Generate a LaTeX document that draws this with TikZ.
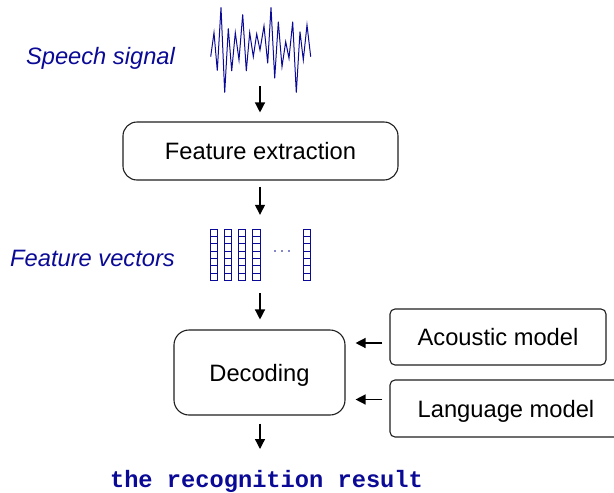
\documentclass[tikz,border=0pt]{standalone}
\usepackage{fontspec}
\setmainfont{Liberation Sans}
\setmonofont{Liberation Mono}
\usetikzlibrary{arrows.meta}
\definecolor{sigblue}{RGB}{10,10,150}
\definecolor{boxline}{RGB}{30,30,30}
\tikzset{
  every node/.style={font=\fontsize{23.7}{28}\selectfont},
  stagebox/.style={draw=boxline, line width=1.1pt, inner sep=0pt,
    text height=17pt, text depth=0pt},
  bluelabel/.style={text=sigblue, font=\fontsize{23.7}{28}\selectfont\itshape, anchor=base},
  arr/.style={line width=1.3pt, -{Triangle[length=10pt,width=10pt]}},
  cell/.style={draw=sigblue, line width=0.9pt},
}
\begin{document}
\begin{tikzpicture}[x=1pt,y=-1pt]
\useasboundingbox (0,0) rectangle (614,493);

% speech waveform
\draw[sigblue, line width=1pt, line join=miter] plot coordinates {
 (210.7,56.7) (214,32.7) (217.3,70.7) (221,7.3) (224.7,92.7) (228.3,28.3)
 (231.7,71) (235.3,32.7) (239,60) (242.7,14.3) (246.3,71) (249.7,32.7)
 (253.3,56.7) (256.7,34) (260,50) (264,26) (267.7,63.3) (271,7.3)
 (274.7,78.3) (278.3,21.7) (282,66.7) (285.7,41.7) (289,58.3) (292.7,21.7)
 (296.3,92.7) (300,31.7) (303.3,60) (307,25) (310.7,56.7)};
\coordinate (wave) at (260,86);
\node[bluelabel] (speech) at (100.5,64) {Speech signal};

% feature extraction
\node[stagebox, rounded corners=14pt, minimum width=275pt, minimum height=58pt]
  (fe) at (260.5,151) {Feature extraction};

% feature vectors
\node[inner sep=0pt, minimum width=101pt, minimum height=52pt] (vecs) at (260.5,255) {};
\foreach \x in {210,224,238.3,252.7,303.3}{
  \foreach \k in {0,...,6}{
    \draw[cell] (\x,229+7.38*\k) rectangle (\x+7.3,229+7.38*\k+7.38);
  }
}
\foreach \x in {275,282,289}{
  \fill[sigblue] (\x,251) circle (0.8pt);
}
\node[bluelabel] (fvlabel) at (92.5,266) {Feature vectors};

% decoding and models
\node[stagebox, rounded corners=15pt, minimum width=171pt, minimum height=85pt]
  (dec) at (259.5,372.5) {Decoding};
\node[stagebox, rounded corners=5pt, minimum width=216pt, minimum height=56pt]
  (am) at (498,337) {Acoustic model};
\node[stagebox, rounded corners=5pt, minimum width=232pt, minimum height=57pt]
  (lm) at (506,408.5) {Language model};

% result
\node[anchor=base, text=sigblue, font=\fontsize{23.7}{28}\selectfont\ttfamily\bfseries]
  (res) at (266.5,487) {the recognition result};
\coordinate (restop) at (260,449);

% connectors
\draw[arr, shorten >=9pt] (wave) -- (wave |- fe.north);
\draw[arr, shorten <=6pt, shorten >=14pt] (fe.south -| wave) -- (vecs.north -| wave);
\draw[arr, shorten <=12pt, shorten >=10pt] (vecs.south -| wave) -- (dec.north -| wave);
\draw[arr, shorten <=8pt] (dec.south -| wave) -- (restop);
\draw[arr, shorten <=7pt, shorten >=10pt] ([yshift=-6pt]am.west) -- ([yshift=-6pt]am.west -| dec.east);
\draw[arr, shorten <=7pt, shorten >=10pt] ([yshift=9pt]lm.west) -- ([yshift=9pt]lm.west -| dec.east);
\end{tikzpicture}
\end{document}
